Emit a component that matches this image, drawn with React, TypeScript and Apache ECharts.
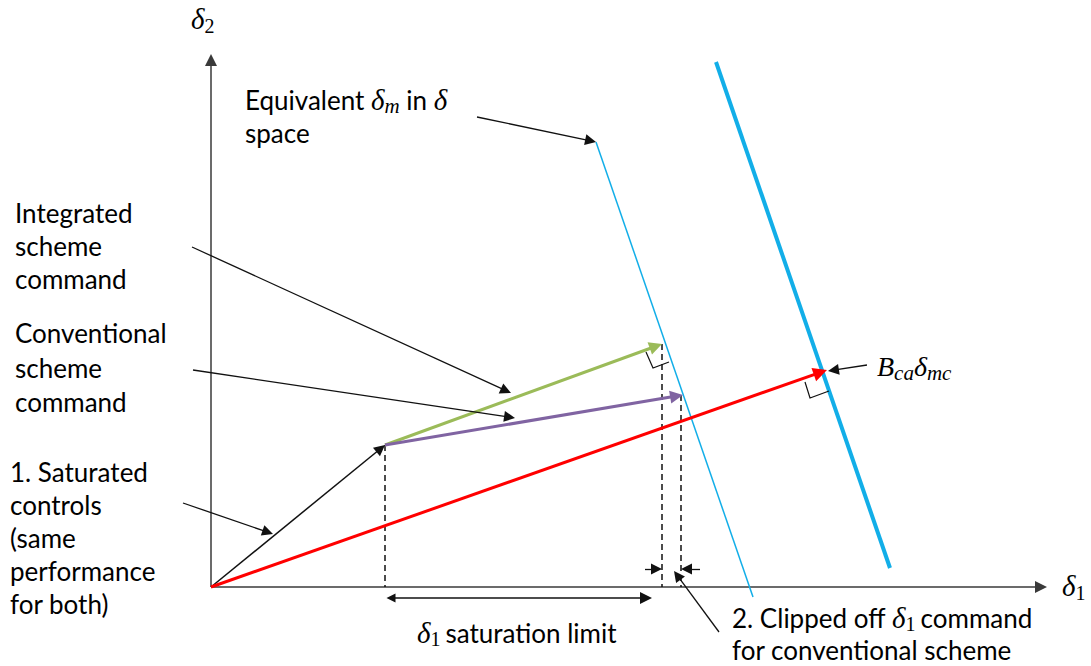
import React, { useEffect, useRef } from "react";
import * as echarts from "echarts";

type Pt = [number, number];

// δ-space geometry in plot units; (0, 0) is where the δ1 and δ2 axes meet.
const delta2Axis: Pt[] = [[0, 0], [0, 533]];
const delta1Axis: Pt[] = [[0, 0], [836, 0]];
const origin: Pt = [0, 0];
const saturatedPoint: Pt = [174, 142];
const integratedTip: Pt = [451, 243];
const conventionalTip: Pt = [472, 192];
const mixedTip: Pt = [616, 217];
const equivalentLine: Pt[] = [[385, 445], [542, -10]];
const attainableLine: Pt[] = [[505, 525], [679, 19]];
const dropLines: Pt[][] = [
  [[174, 142], [174, 0]],
  [[451, 243], [451, 0]],
  [[470, 192], [470, 0]],
];
const rightAngleMarks: Pt[][] = [
  [[435, 235], [442, 219], [458, 225]],
  [[594, 205], [599, 189], [618, 196]],
];
const calloutArrows: Pt[][] = [
  [[266, 470], [385, 445]],
  [[-19, 340], [300, 194]],
  [[-18, 217], [304, 169]],
  [[-28, 84], [62, 53]],
  [[656, 222], [617, 216]],
  [[508, -45], [463, 16]],
  [[434, 18], [451, 18]],
  [[489, 18], [470, 18]],
];
const saturationSpan: Pt[] = [[174, -11], [441, -11]];

// Pull the end of a segment back by half an arrowhead so the head's tip lands on the point.
function headAt(seg: Pt[], head: number): Pt[] {
  const [a, b] = seg;
  const dx = b[0] - a[0];
  const dy = b[1] - a[1];
  const len = Math.hypot(dx, dy) || 1;
  return [a, [b[0] - (dx / len) * head * 0.5, b[1] - (dy / len) * head * 0.5]];
}
function bothHeads(seg: Pt[], head: number): Pt[] {
  const fwd = headAt(seg, head);
  const back = headAt([seg[1], seg[0]], head);
  return [back[1], fwd[1]];
}

const INK = "#0d0d0d";
const SANS = "Lato";
const SERIF = "Liberation Serif";

const rich = {
  s: { fontFamily: SANS, fontSize: 26, color: INK, lineHeight: 33, verticalAlign: "middle" },
  sp: { fontFamily: SANS, fontSize: 26, color: INK, lineHeight: 33, verticalAlign: "middle", padding: [0, 0, 0, 5] },
  d: { fontFamily: SERIF, fontStyle: "italic", fontSize: 29, color: INK, lineHeight: 33, verticalAlign: "middle" },
  b: { fontFamily: SERIF, fontStyle: "italic", fontSize: 28, color: INK, lineHeight: 33, verticalAlign: "middle" },
  sub: { fontFamily: SERIF, fontStyle: "italic", fontSize: 21, color: INK, lineHeight: 12, verticalAlign: "bottom" },
  n: { fontFamily: SERIF, fontSize: 20, color: INK, lineHeight: 12, verticalAlign: "bottom" },
};

function label(x: number, y: number, text: string, lineHeight = 33) {
  const r: any = {};
  for (const k of Object.keys(rich)) {
    const st: any = { ...(rich as any)[k] };
    if (st.lineHeight === 33) st.lineHeight = lineHeight;
    r[k] = st;
  }
  return {
    type: "text",
    x,
    y,
    silent: true,
    style: { text, rich: r, align: "left", verticalAlign: "top" },
  };
}

function segSeries(data: Pt[][], color: string, width: number, opts: any = {}) {
  return {
    type: "lines",
    coordinateSystem: "cartesian2d",
    silent: true,
    polyline: !!opts.polyline,
    symbol: opts.symbol ?? ["none", "none"],
    symbolSize: opts.symbolSize ?? 10,
    lineStyle: { color, width, type: opts.dash ?? "solid", opacity: 1, curveness: 0 },
    itemStyle: { color },
    data: data.map((coords) => ({ coords })),
    z: opts.z ?? 2,
  };
}

export default function App() {
  const ref = useRef<HTMLDivElement>(null);

  useEffect(() => {
    if (!ref.current) return;
    const chart = echarts.init(ref.current, null, { renderer: "svg" });
    const arrow = ["none", "triangle"];

    chart.setOption({
      animation: false,
      backgroundColor: "#ffffff",
      grid: { left: 0, right: 0, top: 0, bottom: 0 },
      xAxis: { type: "value", min: -211, max: 880, show: false },
      yAxis: { type: "value", min: -79, max: 587, show: false },
      series: [
        segSeries([headAt(delta2Axis, 12), headAt(delta1Axis, 12)], "#3a3a3a", 1.5, {
          symbol: arrow,
          symbolSize: [9, 12],
        }),
        segSeries([attainableLine], "#12aee8", 4),
        segSeries([equivalentLine], "#12aee8", 1.5),
        segSeries(dropLines, "#111111", 1.5, { dash: [6, 4] }),
        segSeries([headAt([origin, saturatedPoint], 11)], "#111111", 1.5, {
          symbol: arrow,
          symbolSize: [9, 11],
        }),
        segSeries([headAt([saturatedPoint, integratedTip], 13)], "#9bbb59", 3, {
          symbol: arrow,
          symbolSize: [10, 13],
          z: 3,
        }),
        segSeries([headAt([saturatedPoint, conventionalTip], 13)], "#8064a2", 3, {
          symbol: arrow,
          symbolSize: [10, 13],
          z: 3,
        }),
        segSeries([headAt([origin, mixedTip], 14)], "#ff0000", 3, {
          symbol: arrow,
          symbolSize: [11, 14],
          z: 3,
        }),
        segSeries(rightAngleMarks, "#111111", 1.2, { polyline: true }),
        segSeries(calloutArrows.map((s) => headAt(s, 11)), "#111111", 1.3, {
          symbol: arrow,
          symbolSize: [8, 11],
          z: 4,
        }),
        segSeries([bothHeads(saturationSpan, 12)], "#111111", 1.5, {
          symbol: ["triangle", "triangle"],
          symbolSize: [9, 12],
        }),
      ],
      graphic: {
        elements: [
          label(191, 2, "{d|δ}{n|2}", 34),
          label(1062, 569, "{d|δ}{n|1}", 34),
          label(245, 83, "{s|Equivalent }{d|δ}{sub|m}{s| in }{d|δ}\n{s|space}"),
          label(15, 196, "{s|Integrated}\n{s|scheme}\n{s|command}"),
          label(15, 316, "{s|Conventional}\n{s|scheme}\n{s|command}", 34.5),
          label(10, 455, "{s|1. Saturated}\n{s|controls}\n{s|(same}\n{s|performance}\n{s|for both)}"),
          label(877, 350, "{b|B}{sub|ca}{b|δ}{sub|mc}"),
          label(417, 616, "{d|δ}{n|1}{sp|saturation limit}"),
          label(732, 602, "{s|2. Clipped off }{d|δ}{n|1}{sp|command}\n{s|for conventional scheme}", 32),
        ],
      },
    });

    return () => chart.dispose();
  }, []);

  return (
    <div
      ref={ref}
      style={{ position: "fixed", left: 0, top: 0, width: 1091, height: 666, background: "#fff" }}
    />
  );
}
